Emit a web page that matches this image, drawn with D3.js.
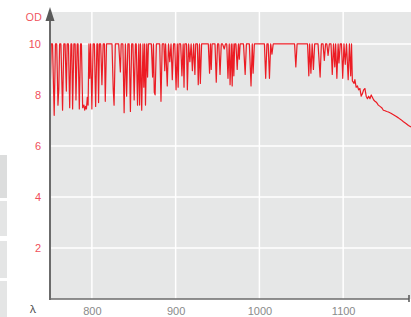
<!DOCTYPE html>
<html>
<head>
<meta charset="utf-8">
<script src="https://cdn.jsdelivr.net/npm/d3@7"></script>
<style>
  html, body { margin: 0; padding: 0; background: #fff; }
  svg { display: block; font-family: "Open Sans", "Noto Sans", sans-serif; }
</style>
</head>
<body>
<div id="chart"></div>
<script>
// wavelength (nm) and optical density
const wavelengths = [
  750, 751.5, 753, 755, 756.5, 758, 759.5, 760.5, 761.5, 763, 765, 766.5, 768, 769.5, 770.5, 772, 773.5, 775, 776, 777,
  778.5, 780, 781, 782.5, 783.5, 785, 786.5, 787.5, 789, 790.5, 791.5, 792.5, 793.5, 794.5, 795.5, 796.5, 797.5, 798.5, 800, 801.5,
  803, 804.5, 806, 807, 808, 809, 810.5, 812, 813.5, 815, 816, 817.5, 820, 822, 824, 825.5, 826.5, 828, 830, 832,
  834, 835, 837, 838.5, 840, 841.5, 843, 844.5, 846, 847.5, 849, 850.5, 852, 853, 854.5, 856, 857, 858, 859.5, 861,
  862, 863, 864, 865.5, 866.5, 867.5, 869.5, 871, 872.5, 873.5, 874.5, 875.5, 877, 879, 881, 882.5, 884, 886, 887, 888,
  890, 891.5, 893, 894.5, 896, 897.5, 899, 900.5, 902, 903, 904, 906, 907.5, 909, 910, 911, 913, 914, 915.5, 917,
  918.5, 920, 921.5, 923, 924, 926, 927, 928.5, 929.5, 931, 933, 935, 937, 939, 940.5, 941.5, 942.5, 943.5, 945, 947,
  948.5, 950, 951.5, 953, 954.5, 956, 958, 959.5, 961, 962.5, 964, 965, 966.5, 967.5, 968.5, 969.5, 970.5, 972, 973.5, 975,
  976, 977, 979, 981, 983, 984.5, 986, 988, 990, 991.5, 992.5, 994, 996, 998, 1000, 1002, 1004, 1006, 1007.5, 1009,
  1010.5, 1012, 1013.5, 1015, 1016.5, 1020, 1025, 1030, 1035, 1040, 1042, 1043.5, 1045, 1050, 1055, 1057.5, 1059, 1060, 1061.5, 1063,
  1064.5, 1066, 1068, 1070, 1072.5, 1074, 1076, 1077.5, 1079, 1080.5, 1082, 1083.5, 1085.5, 1087, 1088.5, 1090, 1091, 1092.5, 1094, 1095,
  1096.5, 1098, 1099.5, 1101, 1102.5, 1104, 1106, 1107.5, 1109, 1110, 1111, 1113, 1114, 1115.5, 1117, 1118.5, 1120, 1121.5, 1123, 1124.5,
  1126, 1127.5, 1129, 1130.5, 1132, 1133.5, 1135, 1136.5, 1138, 1140, 1142, 1144, 1146, 1148, 1150, 1152, 1154, 1157, 1160, 1163,
  1166, 1169, 1172, 1175, 1178, 1181
];
const od = [
  7.8, 10, 10, 7.2, 10, 10, 7.6, 8.2, 10, 10, 7.4, 10, 10, 8.15, 10, 10, 7.5, 10, 10, 7.45,
  10, 10, 7.8, 10, 10, 7.45, 10, 10, 7.5, 7.6, 7.4, 7.55, 7.45, 7.9, 7.6, 10, 8.65, 10, 7.45, 10,
  10, 7.55, 10, 10, 7.7, 10, 10, 8.4, 10, 10, 7.75, 10, 10, 10, 10, 8.2, 7.6, 10, 10, 10,
  8.9, 10, 10, 7.3, 10, 7.95, 10, 10, 7.35, 10, 10, 7.8, 10, 10, 7.6, 10, 7.6, 10, 7.4, 10,
  8.3, 10, 7.6, 10, 8.7, 10, 10, 10, 8.7, 10, 8.1, 8.0, 10, 10, 10, 7.75, 10, 10, 8.95, 10,
  8.35, 10, 9.3, 10, 8.6, 10, 10, 8.2, 10, 8.3, 10, 10, 8.75, 10, 8.3, 10, 10, 8.2, 10, 9.3,
  10, 8.95, 10, 8.8, 10, 10, 8.4, 10, 8.45, 10, 10, 10, 10, 10, 8.85, 10, 9.0, 10, 10, 10,
  8.5, 10, 10, 8.8, 10, 10, 9.8, 10, 10, 8.65, 10, 8.4, 10, 8.35, 10, 8.75, 10, 10, 9.0, 10,
  9.4, 10, 10, 10, 8.8, 10, 10, 10, 8.35, 10, 8.85, 10, 10, 10, 10, 10, 10, 10, 8.65, 10,
  10, 8.65, 10, 9.6, 10, 10, 10, 10, 10, 10, 10, 9.1, 10, 10, 10, 10, 8.75, 10, 8.85, 10,
  9.0, 10, 10, 10, 8.7, 10, 10, 9.35, 10, 10, 9.55, 10, 10, 8.8, 10, 9.1, 10, 8.65, 10, 9.25,
  10, 10, 8.65, 10, 9.2, 10, 8.6, 10, 8.75, 10, 8.55, 8.45, 8.6, 8.3, 8.35, 8.2, 8.25, 7.95, 8.05, 8.2,
  8.25, 7.95, 7.85, 7.95, 7.85, 8.0, 7.9, 7.8, 7.75, 7.7, 7.6, 7.55, 7.5, 7.4, 7.38, 7.35, 7.33, 7.28, 7.22, 7.16,
  7.1, 7.03, 6.95, 6.88, 6.8, 6.74
];
const xTicks = [800, 900, 1000, 1100];
const yTicks = [2, 4, 6, 8, 10];

const width = 411;
const height = 317;
const plotLeft = 50;
const plotTop = 12;
const plotBottom = 299;

const svg = d3.select('#chart')
  .append('svg')
  .attr('width', width)
  .attr('height', height)

// grey tabs at the left edge (part of the page around the chart)
const tabs = [[155, 198, '#dcdddd'], [201, 236, '#e4e5e5'], [241, 278, '#e4e5e5'], [281, 317, '#e4e5e5']];
svg.selectAll('.tab')
  .data(tabs)
  .enter()
  .append('rect')
  .attr('class', 'tab')
  .attr('x', 0)
  .attr('y', d => d[0])
  .attr('width', 7)
  .attr('height', d => d[1] - d[0])
  .style('fill', d => d[2])

const xScale = d3.scaleLinear()
  .domain([750, 1181])
  .range([plotLeft, width])

const yScale = d3.scaleLinear()
  .domain([0, 11.25])
  .range([plotBottom, plotTop])

svg.append('rect')
  .attr('x', plotLeft)
  .attr('y', plotTop)
  .attr('width', width - plotLeft)
  .attr('height', plotBottom - plotTop)
  .style('fill', '#e6e7e7')

// white grid
svg.selectAll('.hgrid')
  .data(yTicks)
  .enter()
  .append('line')
  .attr('x1', plotLeft)
  .attr('x2', width)
  .attr('y1', d => yScale(d))
  .attr('y2', d => yScale(d))
  .style('stroke', '#fff')
  .style('stroke-width', 1.5)

svg.selectAll('.vgrid')
  .data(xTicks)
  .enter()
  .append('line')
  .attr('x1', d => xScale(d))
  .attr('x2', d => xScale(d))
  .attr('y1', plotTop)
  .attr('y2', plotBottom)
  .style('stroke', '#fff')
  .style('stroke-width', 1.5)

svg.append('clipPath')
  .attr('id', 'clip')
  .append('rect')
  .attr('x', plotLeft)
  .attr('y', plotTop)
  .attr('width', width - plotLeft)
  .attr('height', plotBottom - plotTop)

const line = d3.line()
  .x((d, i) => xScale(wavelengths[i]))
  .y(d => yScale(d))

svg.append('path')
  .datum(od)
  .attr('clip-path', 'url(#clip)')
  .attr('d', line)
  .style('fill', 'none')
  .style('stroke', '#ec1c24')
  .style('stroke-width', 1.2)
  .style('stroke-linejoin', 'round')

// axes
const yAxis = d3.axisLeft(yScale)
  .tickValues(yTicks)
  .tickSize(0)
  .tickPadding(9)

const xAxis = d3.axisBottom(xScale)
  .tickValues(xTicks)
  .tickFormat(d3.format('d'))
  .tickSize(0)
  .tickPadding(8)

const gy = svg.append('g')
  .attr('id', 'y-axis')
  .attr('transform', `translate(${plotLeft}, 0)`)
  .call(yAxis)

gy.select('.domain').remove()
gy.selectAll('text')
  .style('font-size', '11px')
  .style('fill', '#f0505a')
  .attr('dy', '0.35em')

const gx = svg.append('g')
  .attr('id', 'x-axis')
  .attr('transform', `translate(0, ${plotBottom})`)
  .call(xAxis)

gx.select('.domain').remove()
gx.selectAll('text')
  .style('font-size', '11px')
  .style('fill', '#8a8a8a')

svg.append('line')
  .attr('x1', plotLeft)
  .attr('x2', plotLeft)
  .attr('y1', 16)
  .attr('y2', plotBottom + 1)
  .style('stroke', '#6b6b6b')
  .style('stroke-width', 2)

svg.append('line')
  .attr('x1', plotLeft)
  .attr('x2', 409)
  .attr('y1', plotBottom)
  .attr('y2', plotBottom)
  .style('stroke', '#6b6b6b')
  .style('stroke-width', 1.5)

svg.append('line')
  .attr('x1', 409)
  .attr('x2', 409)
  .attr('y1', plotBottom - 4)
  .attr('y2', plotBottom + 3)
  .style('stroke', '#555')
  .style('stroke-width', 1.5)

svg.append('path')
  .attr('d', `M${plotLeft},7 L${plotLeft + 4.5},21 L${plotLeft - 4.5},21 Z`)
  .style('fill', '#5a5a5a')

svg.append('text')
  .attr('x', 42)
  .attr('y', 17)
  .attr('dy', '0.35em')
  .style('text-anchor', 'end')
  .style('font-size', '11px')
  .style('fill', '#f0505a')
  .text('OD')

svg.append('text')
  .attr('x', 33)
  .attr('y', 313)
  .style('text-anchor', 'middle')
  .style('font-size', '11px')
  .style('fill', '#444')
  .text('λ')
</script>
</body>
</html>
